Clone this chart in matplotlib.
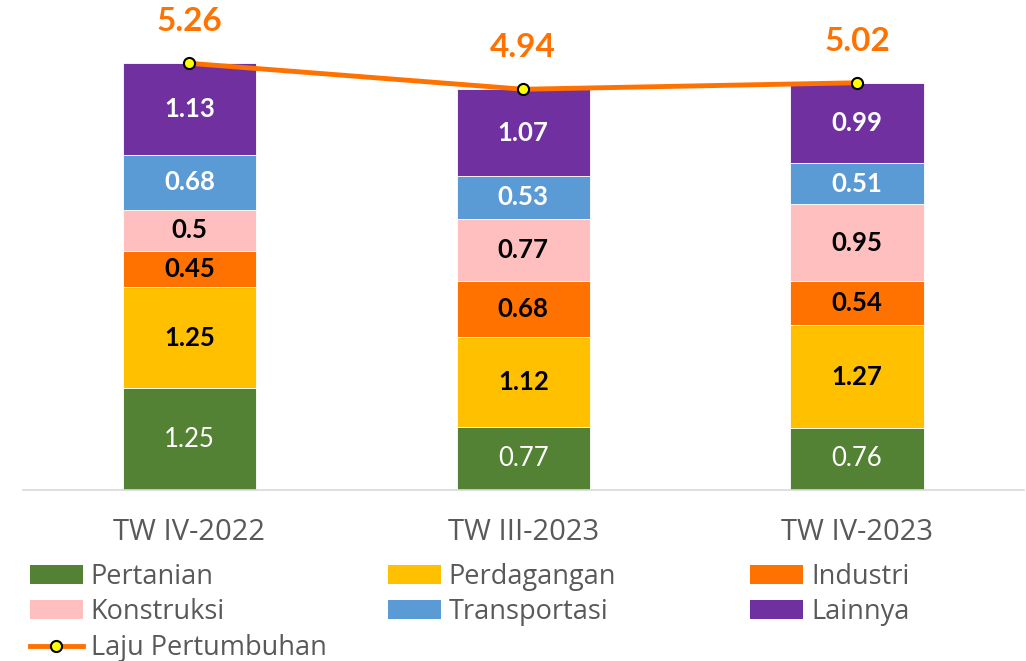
import numpy as np
import matplotlib.pyplot as plt
from matplotlib.lines import Line2D
from matplotlib.patches import Patch

# quarters and contributions to growth (percentage points)
periods = ['TW IV-2022', 'TW III-2023', 'TW IV-2023']
pertanian = [1.25, 0.77, 0.76]
perdagangan = [1.25, 1.12, 1.27]
industri = [0.45, 0.68, 0.54]
konstruksi = [0.5, 0.77, 0.95]
transportasi = [0.68, 0.53, 0.51]
lainnya = [1.13, 1.07, 0.99]
laju = [5.26, 4.94, 5.02]

series = [
    ('Pertanian', pertanian, '#548235', 'white', 'normal'),
    ('Perdagangan', perdagangan, '#FFC000', 'black', 'bold'),
    ('Industri', industri, '#FF7200', 'black', 'bold'),
    ('Konstruksi', konstruksi, '#FFBFBF', 'black', 'bold'),
    ('Transportasi', transportasi, '#5B9BD5', 'white', 'bold'),
    ('Lainnya', lainnya, '#7030A0', 'white', 'bold'),
]

fig = plt.figure(figsize=(10.26, 6.61), dpi=100)
ax = fig.add_axes([0.022, 0.259, 0.976, 0.736])

x = np.arange(len(periods))
bottom = np.zeros(len(periods))
handles = {}
for name, vals, col, tcol, wt in series:
    vals = np.array(vals)
    ax.bar(x, vals, 0.4, bottom=bottom, color=col, edgecolor='white', linewidth=0.6, zorder=2)
    for xi, b, v in zip(x, bottom, vals):
        ax.text(xi, b + v / 2, f'{v:g}', ha='center', va='center', color=tcol,
                fontsize=18.5, fontweight=wt, family='Lato')
    handles[name] = Patch(facecolor=col)
    bottom += vals

ax.plot(x, laju, color='#FF7200', lw=3.5, marker='o', markersize=8,
        markerfacecolor='#FFFF00', markeredgecolor='black', markeredgewidth=1.5, zorder=3)
for xi, v in zip(x, laju):
    ax.annotate(f'{v:.2f}', (xi, v), xytext=(0, 30), textcoords='offset points',
                ha='center', va='center', color='#FF7200', fontsize=24, fontweight='bold', family='Lato')
handles['Laju Pertumbuhan'] = Line2D([], [], color='#FF7200', lw=3.5, marker='o', markersize=8,
                                     markerfacecolor='#FFFF00', markeredgecolor='black', markeredgewidth=1.5)

ax.set_xlim(-0.5, 2.5)
ax.set_ylim(0, 6.0)
ax.set_yticks([])
ax.set_xticks(x)
ax.set_xticklabels(periods, fontsize=21, color='#595959', family='Open Sans')
ax.tick_params(axis='x', length=0, pad=20)
for s in ['top', 'right', 'left']:
    ax.spines[s].set_visible(False)
ax.spines['bottom'].set_color('#D9D9D9')
ax.spines['bottom'].set_linewidth(1.2)

# legend: three columns placed by hand
cols = [(['Pertanian', 'Konstruksi', 'Laju Pertumbuhan'], 0.029),
        (['Perdagangan', 'Transportasi'], 0.378),
        (['Industri', 'Lainnya'], 0.731)]
for names, xpos in cols:
    leg = fig.legend([handles[n] for n in names], names, loc='upper left',
                     bbox_to_anchor=(xpos, 0.149), frameon=False,
                     handlelength=1.95, handleheight=0.7, handletextpad=0.3,
                     labelspacing=0.29, borderaxespad=0, borderpad=0,
                     prop={'family': 'Open Sans', 'size': 19.5})
    for t in leg.get_texts():
        t.set_color('#595959')

fig.savefig('out.png', dpi=100)
